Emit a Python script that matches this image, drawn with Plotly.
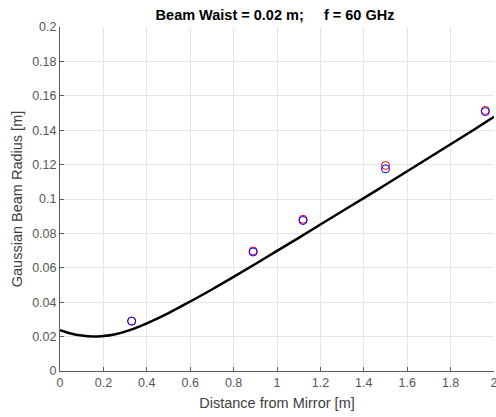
import plotly.graph_objects as go

# Curve
curve_x = [0, 0.05, 0.1, 0.15, 0.2, 0.25, 0.3, 0.35, 0.4, 0.5, 0.6, 0.7, 0.8, 0.9,
           1.0, 1.1, 1.2, 1.3, 1.4, 1.5, 1.6, 1.7, 1.8, 1.9, 2.0]
curve_y = [0.0237, 0.0218, 0.0206, 0.0200, 0.0203, 0.0212, 0.0229, 0.0251, 0.0277,
           0.0337, 0.0404, 0.0474, 0.0547, 0.0622, 0.0698, 0.0774, 0.0852, 0.0929,
           0.1005, 0.1083, 0.1161, 0.1240, 0.1318, 0.1397, 0.1478]

meas_x = [0.33, 0.89, 1.12, 1.50, 1.96]
red_y = [0.029, 0.0698, 0.0882, 0.1195, 0.1515]
blue_y = [0.029, 0.0692, 0.0875, 0.1175, 0.1508]

x_ticks = [0, 0.2, 0.4, 0.6, 0.8, 1, 1.2, 1.4, 1.6, 1.8, 2]
x_tick_text = ["0", "0.2", "0.4", "0.6", "0.8", "1", "1.2", "1.4", "1.6", "1.8", "2"]
y_ticks = [0, 0.02, 0.04, 0.06, 0.08, 0.1, 0.12, 0.14, 0.16, 0.18, 0.2]
y_tick_text = ["0", "0.02", "0.04", "0.06", "0.08", "0.1", "0.12", "0.14", "0.16", "0.18", "0.2"]

fig = go.Figure()
fig.add_trace(go.Scatter(x=curve_x, y=curve_y, mode="lines",
                         line=dict(color="black", width=2.5, shape="spline"),
                         showlegend=False, cliponaxis=False))
fig.add_trace(go.Scatter(x=meas_x, y=red_y, mode="markers",
                         marker=dict(symbol="circle-open", size=8, color="#ff0000",
                                     line=dict(width=1)),
                         showlegend=False))
fig.add_trace(go.Scatter(x=meas_x, y=blue_y, mode="markers",
                         marker=dict(symbol="circle-open", size=8, color="#0000ff",
                                     line=dict(width=1)),
                         showlegend=False))

font_fam = "Liberation Sans, Arial, sans-serif"
fig.update_layout(
    width=496, height=417,
    margin=dict(l=60, r=2, t=27, b=46, autoexpand=False),
    paper_bgcolor="white", plot_bgcolor="white",
    font=dict(family=font_fam, size=12, color="#4d4d4d"),
    title=dict(text="<b>Beam Waist = 0.02 m;     f = 60 GHz</b>",
               x=275 / 496, xanchor="center",
               y=1 - 15 / 417, yanchor="middle",
               font=dict(family=font_fam, size=14.5, color="black")),
    xaxis=dict(range=[0, 2], tickvals=x_ticks, ticktext=x_tick_text,
               automargin=False, ticklabeloverflow="allow",
               showgrid=True, gridcolor="#e5e5e5", gridwidth=1,
               showline=True, linecolor="#5a5a5a", linewidth=1,
               ticks="inside", ticklen=4, tickcolor="#5a5a5a",
               zeroline=False,
               title=dict(text="Distance from Mirror [m]", standoff=8,
                          font=dict(size=14.5, color="#404040")),
               tickfont=dict(size=12.5, color="#555555")),
    yaxis=dict(range=[0, 0.2], tickvals=y_ticks, ticktext=y_tick_text,
               automargin=False, ticklabeloverflow="allow",
               showgrid=True, gridcolor="#e5e5e5", gridwidth=1,
               showline=True, linecolor="#5a5a5a", linewidth=1,
               ticks="inside", ticklen=4, tickcolor="#5a5a5a",
               zeroline=False,
               title=dict(text="Gaussian Beam Radius [m]", standoff=6,
                          font=dict(size=14.5, color="#404040")),
               tickfont=dict(size=12.5, color="#555555")),
)

fig.write_html("out.html", config={"displayModeBar": False},
               post_script="document.body.style.margin='0';document.body.style.overflow='hidden';")
